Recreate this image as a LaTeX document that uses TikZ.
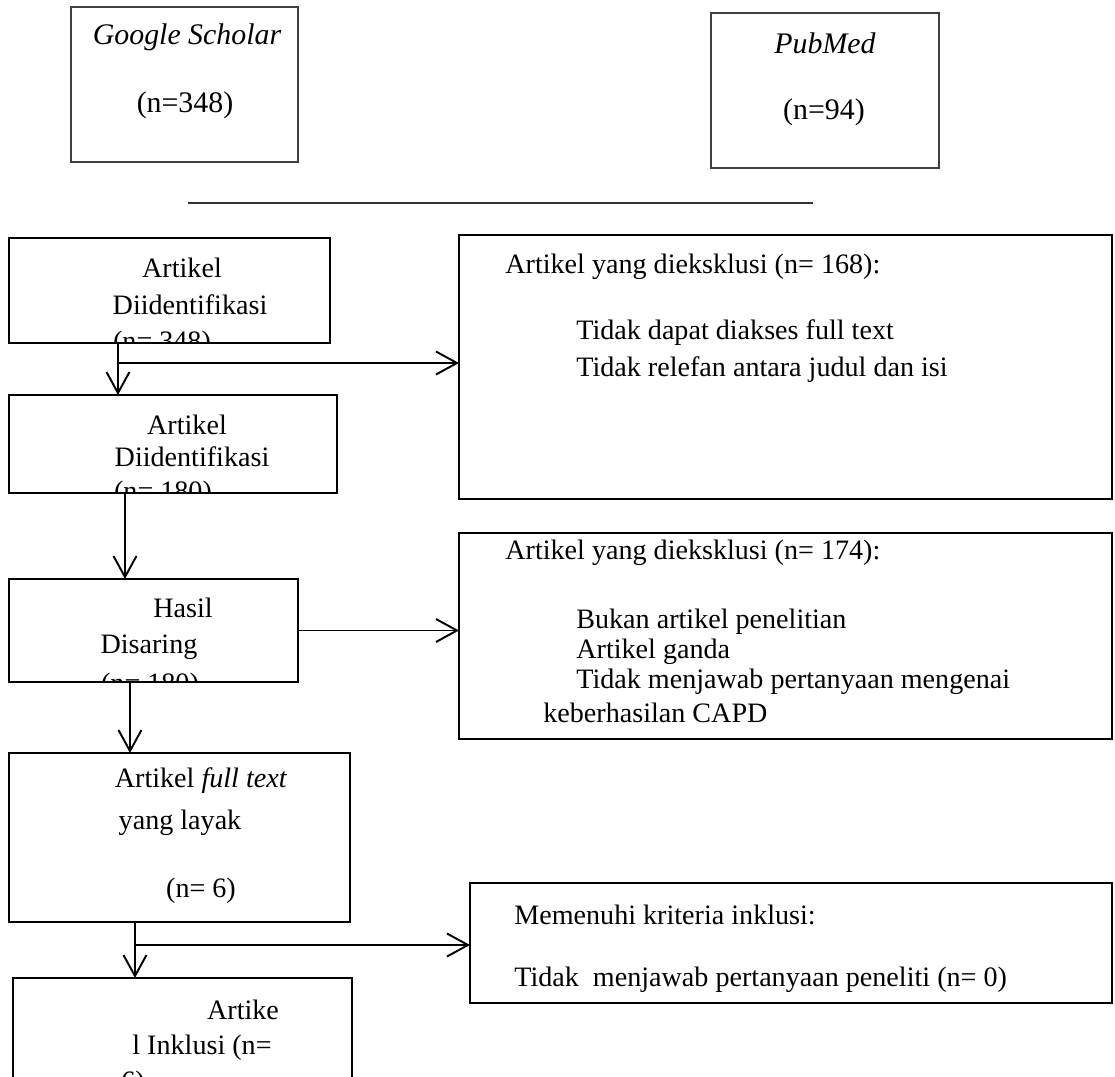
\documentclass[tikz,border=0pt]{standalone}
\usepackage{fontspec}
\setmainfont{Liberation Serif}
\usetikzlibrary{arrows.meta}

\tikzset{
  box/.style={draw, line width=1.1pt, inner sep=0pt, outer sep=0pt, anchor=north west},
  srcbox/.style={draw=black!75, line width=0.7pt, inner sep=0pt, outer sep=0pt, anchor=north west},
  txt/.style={inner sep=0pt, font=\fontsize{16}{19}\selectfont},
  srctxt/.style={inner sep=0pt, font=\fontsize{17}{20}\selectfont},
  arr/.style={line width=1.1pt, -{Straight Barb[length=0.42cm, width=0.46cm, line width=1.1pt]}},
}

\begin{document}
\begin{tikzpicture}[x=0.02cm, y=-0.02cm]
  \useasboundingbox (0,0) rectangle (1115,1076);

  % sumber pencarian
  \node[srcbox, minimum width=4.54cm, minimum height=3.10cm] (gs) at (71,7) {};
  \node[srcbox, minimum width=4.56cm, minimum height=3.10cm] (pm) at (711,13) {};
  \node[srctxt, font=\fontsize{17}{20}\selectfont\itshape] (gsname) at (187,37) {Google Scholar};
  \node[srctxt] (gsn) at (185,105) {(n=348)};
  \node[srctxt, font=\fontsize{17}{20}\selectfont\itshape] (pmname) at (825,43) {PubMed};
  \node[srctxt] (pmn) at (824,112) {(n=94)};

  \coordinate (l1) at (188,203);
  \coordinate (l2) at (813,203);
  \draw[black!80, line width=0.9pt] (l1) -- (l2);

  % kotak alur kiri
  \node[box, minimum width=6.42cm, minimum height=2.10cm] (a1) at (9,238) {};
  \node[box, minimum width=6.56cm, minimum height=1.96cm] (a2) at (9,395) {};
  \node[box, minimum width=5.78cm, minimum height=2.06cm] (a3) at (9,579) {};
  \node[box, minimum width=6.82cm, minimum height=3.38cm] (a4) at (9,753) {};
  \node[box, minimum width=6.78cm, minimum height=2.60cm] (a5) at (13,978) {};

  % kotak eksklusi kanan
  \node[box, minimum width=13.06cm, minimum height=5.28cm] (x1) at (459,235) {};
  \node[box, minimum width=13.06cm, minimum height=4.12cm] (x2) at (459,533) {};
  \node[box, minimum width=12.84cm, minimum height=2.40cm] (x3) at (470,883) {};

  % teks kiri
  \node[txt] (a1t1) at (182,268) {Artikel};
  \node[txt] (a1t2) at (190,305) {Diidentifikasi};
  \begin{scope}
    \clip (9,238) rectangle (330,343);
    \node[txt, anchor=north] (a1t3) at (162,331) {(n= 348)};
  \end{scope}

  \node[txt] (a2t1) at (187,425) {Artikel};
  \node[txt] (a2t2) at (192,457) {Diidentifikasi};
  \begin{scope}
    \clip (9,395) rectangle (337,493);
    \node[txt, anchor=north] (a2t3) at (163,481) {(n= 180)};
  \end{scope}

  \node[txt] (a3t1) at (183,608) {Hasil};
  \node[txt] (a3t2) at (149,647) {Disaring};
  \begin{scope}
    \clip (9,579) rectangle (298,682);
    \node[txt, anchor=north] (a3t3) at (150,673) {(n= 180)};
  \end{scope}

  \node[txt] (a4t1) at (201,781) {Artikel \textit{full text}};
  \node[txt] (a4t2) at (180,823) {yang layak};
  \node[txt] (a4t3) at (201,891) {(n= 6)};

  \node[txt] (a5t1) at (243,1010) {Artike};
  \node[txt] (a5t2) at (202,1048) {l Inklusi (n=};
  \node[txt, anchor=north] (a5t3) at (133,1071) {6)};

  % teks kanan
  \node[txt, anchor=west] (x1t1) at (505,267) {Artikel yang dieksklusi (n= 168):};
  \node[txt, anchor=west] (x1t2) at (576,333) {Tidak dapat diakses full text};
  \node[txt, anchor=west] (x1t3) at (576,370) {Tidak relefan antara judul dan isi};

  \node[txt, anchor=west] (x2t1) at (505,553) {Artikel yang dieksklusi (n= 174):};
  \node[txt, anchor=west] (x2t2) at (576,622) {Bukan artikel penelitian};
  \node[txt, anchor=west] (x2t3) at (576,652) {Artikel ganda};
  \node[txt, anchor=west] (x2t4) at (576,682) {Tidak menjawab pertanyaan mengenai};
  \node[txt, anchor=west] (x2t5) at (543,713) {keberhasilan CAPD};

  \node[txt, anchor=west] (x3t1) at (514,915) {Memenuhi kriteria inklusi:};
  \node[txt, anchor=west] (x3t2) at (514,980) {Tidak\ \ menjawab pertanyaan peneliti (n= 0)};

  % panah
  \draw[arr] ([xshift=2.18cm]a1.south west) -- ([xshift=2.18cm]a2.north west);
  \coordinate (b1) at (118,363);
  \draw[arr] (b1) -- (b1 -| x1.west);

  \draw[arr] ([xshift=2.32cm]a2.south west) -- ([xshift=2.32cm]a3.north west);
  \draw[arr] (a3.east) -- (a3.east -| x2.west);

  \draw[arr] ([xshift=2.42cm]a3.south west) -- ([xshift=2.42cm]a4.north west);

  \draw[arr] ([xshift=2.52cm]a4.south west) -- ([xshift=2.52cm]a4.south west |- a5.north);
  \coordinate (b2) at (135,945);
  \draw[arr] (b2) -- (b2 -| x3.west);
\end{tikzpicture}
\end{document}
